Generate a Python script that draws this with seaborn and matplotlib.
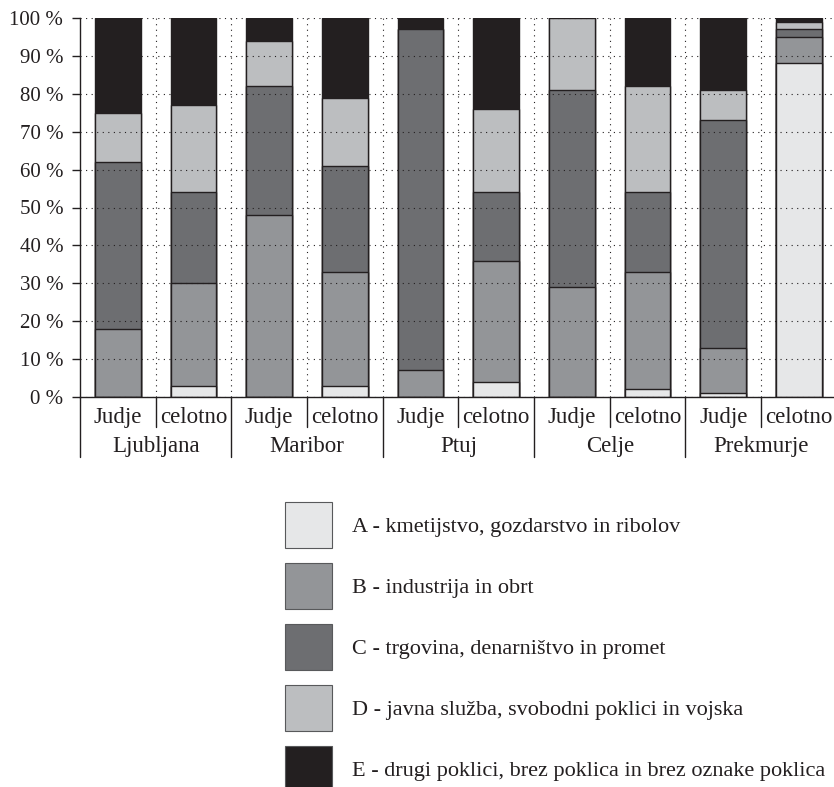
import matplotlib
matplotlib.use("Agg")
import matplotlib.pyplot as plt
import matplotlib.ticker as mticker
from matplotlib.patches import Patch
import pandas as pd
import seaborn as sns

# ==============================================================================
# PODATKI (deleži v %)
# ==============================================================================
mesta = ["Ljubljana", "Maribor", "Ptuj", "Celje", "Prekmurje"]
skupine = ["Judje", "celotno"]

kmetijstvo = [0, 3, 0, 3, 0, 4, 0, 2, 1, 88]
industrija = [18, 27, 48, 30, 7, 32, 29, 31, 12, 7]
trgovina = [44, 24, 34, 28, 90, 18, 52, 21, 60, 2]
javna = [13, 23, 12, 18, 0, 22, 19, 28, 8, 2]
drugo = [25, 23, 6, 21, 3, 24, 0, 18, 19, 1]

oznake = [
    "A - kmetijstvo, gozdarstvo in ribolov",
    "B - industrija in obrt",
    "C - trgovina, denarništvo in promet",
    "D - javna služba, svobodni poklici in vojska",
    "E - drugi poklici, brez poklica in brez oznake poklica",
]
barve = ["#e6e7e8", "#939598", "#6d6e71", "#bcbec0", "#231f20"]
ROB = "#231f20"

# ==============================================================================
# SLOG
# ==============================================================================
sns.set_theme(style="white")
plt.rcParams["font.family"] = ["Liberation Serif", "DejaVu Serif"]
plt.rcParams["text.color"] = ROB
plt.rcParams["xtick.color"] = ROB
plt.rcParams["ytick.color"] = ROB
FS_Y = 15
FS_X = 16.5
FS_LEG = 16

stolpci = [f"{m} {s}" for m in mesta for s in skupine]
df = pd.DataFrame({
    "stolpec": stolpci,
    "A": kmetijstvo, "B": industrija, "C": trgovina, "D": javna, "E": drugo,
})
kategorije = ["A", "B", "C", "D", "E"]
kumulativa = df[kategorije].cumsum(axis=1)

W, H = 834, 787
fig = plt.figure(figsize=(W / 100, H / 100), dpi=100)
ax = fig.add_axes([80 / W, 1 - 397 / H, 756.7 / W, 379 / H])

# stolpce rišemo od zgoraj navzdol (prekrivanje kumulativnih višin)
for kat, barva in reversed(list(zip(kategorije, barve))):
    sns.barplot(x=df["stolpec"], y=kumulativa[kat], order=stolpci, color=barva,
                saturation=1, width=0.6, edgecolor=ROB, linewidth=1,
                errorbar=None, ax=ax)

ax.set_xlim(-0.5, len(stolpci) - 0.5)
ax.set_ylim(0, 100)
ax.set_xlabel("")
ax.set_ylabel("")

# mreža (pikčasta, nad stolpci)
ax.set_axisbelow(False)
ax.set_yticks(range(0, 101, 10))
ax.yaxis.set_major_formatter(mticker.FuncFormatter(lambda v, p: f"{int(v)} %"))
ax.set_xticks([i + 0.5 for i in range(len(stolpci))], minor=True)
ax.set_xticks(range(len(stolpci)))
ax.set_xticklabels([])
ax.grid(False)
ax.yaxis.grid(True, linestyle=(0, (1, 4)), color=ROB, linewidth=0.8)
ax.xaxis.grid(True, which="minor", linestyle=(0, (1, 4)), color=ROB, linewidth=0.8)
ax.tick_params(axis="y", length=6, width=1, direction="out", labelsize=FS_Y, pad=6,
               left=True)
ax.tick_params(axis="x", which="both", length=0)

for s in ["top", "right"]:
    ax.spines[s].set_visible(False)
for s in ["left", "bottom"]:
    ax.spines[s].set_color(ROB)
    ax.spines[s].set_linewidth(1)

# ločilne črte in napisi pod osjo
trans = ax.get_xaxis_transform()
for i in range(len(stolpci) + 1):
    x = i - 0.5
    spodaj = -0.158 if i % 2 == 0 else -0.079
    ax.plot([x, x], [0, spodaj], transform=trans, clip_on=False, color=ROB, lw=1)

for i, st in enumerate(stolpci):
    ax.text(i, -0.055, skupine[i % 2], transform=trans, ha="center", va="center",
            fontsize=FS_X)
for j, m in enumerate(mesta):
    ax.text(2 * j + 0.5, -0.13, m, transform=trans, ha="center", va="center",
            fontsize=FS_X)

# legenda
rocke = [Patch(facecolor=b, edgecolor="#58595b", linewidth=0.8) for b in barve]
fig.legend(rocke, oznake, loc="upper left", bbox_to_anchor=(285 / W, 1 - 502 / H),
           frameon=False, fontsize=FS_LEG, handlelength=2.11, handleheight=2.81,
           handletextpad=0.9, labelspacing=0.675, borderpad=0, borderaxespad=0)

fig.savefig("out.png", dpi=100)
